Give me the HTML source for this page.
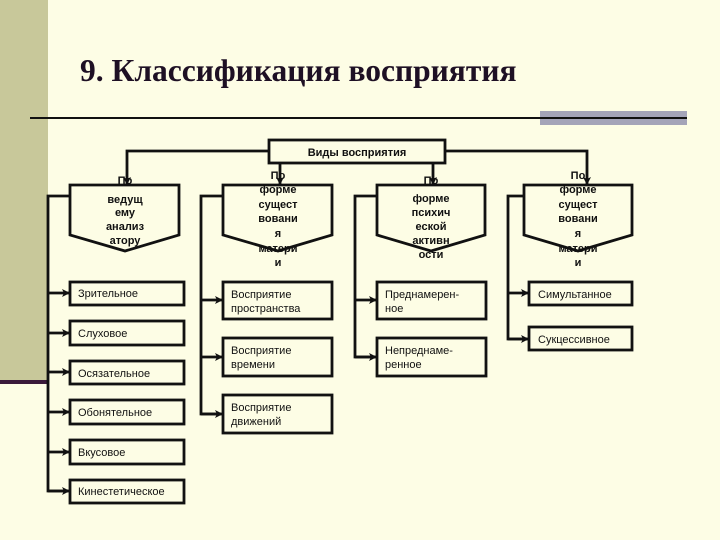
<!DOCTYPE html>
<html><head><meta charset="utf-8"><style>
body{margin:0;background:#fdfde5;}
svg{display:block}
text{font-family:"Liberation Sans",sans-serif;font-size:11px;fill:#111}
.b{font-weight:bold;text-anchor:middle}
</style></head><body>
<svg width="720" height="540" viewBox="0 0 720 540">
<defs><marker id="a" markerWidth="8" markerHeight="8" refX="7" refY="4" orient="auto" markerUnits="userSpaceOnUse"><path d="M0,0 L8,4 L0,8 L2,4z" fill="#111"/></marker></defs>
<rect x="0" y="0" width="720" height="540" fill="#fdfde5"/>
<rect x="0" y="0" width="48" height="382" fill="#c8c89a"/>
<rect x="0" y="380" width="48" height="4" fill="#3a1a3a"/>
<text x="80" y="81" style="font-family:'Liberation Serif',serif;font-size:31.5px;font-weight:bold;fill:#1e1024">9. Классификация восприятия</text>
<rect x="540" y="111" width="147" height="14" fill="#a4a4b8"/>
<line x1="30" y1="118" x2="687" y2="118" stroke="#111" stroke-width="2"/>
<g stroke="#111" stroke-width="2.8" fill="none">
<rect x="269" y="140" width="176" height="23" fill="#fdfde5"/>
<polyline points="269,151 127,151 127,184" marker-end="url(#a)"/>
<polyline points="445,151 587,151 587,184" marker-end="url(#a)"/>
<line x1="280" y1="163" x2="280" y2="184" marker-end="url(#a)"/>
<line x1="433" y1="163" x2="433" y2="184" marker-end="url(#a)"/>
<polygon points="70,185 179,185 179,235 125,251 70,235" fill="#fdfde5"/>
<polygon points="223,185 332,185 332,235 278,251 223,235" fill="#fdfde5"/>
<polygon points="377,185 485,185 485,235 431,251 377,235" fill="#fdfde5"/>
<polygon points="524,185 632,185 632,235 578,251 524,235" fill="#fdfde5"/>
<polyline points="70,196 48,196 48,491 68,491"/>
<polyline points="223,196 201,196 201,414 221,414"/>
<polyline points="377,196 355,196 355,357 375,357"/>
<polyline points="524,196 508,196 508,339 527,339"/>
<g marker-end="url(#a)">
<line x1="48" y1="293" x2="69" y2="293"/><line x1="48" y1="333" x2="69" y2="333"/><line x1="48" y1="372" x2="69" y2="372"/><line x1="48" y1="412" x2="69" y2="412"/><line x1="48" y1="452" x2="69" y2="452"/><line x1="48" y1="491" x2="69" y2="491"/>
<line x1="201" y1="300" x2="222" y2="300"/><line x1="201" y1="357" x2="222" y2="357"/><line x1="201" y1="414" x2="222" y2="414"/>
<line x1="355" y1="300" x2="376" y2="300"/><line x1="355" y1="357" x2="376" y2="357"/>
<line x1="508" y1="293" x2="528" y2="293"/><line x1="508" y1="339" x2="528" y2="339"/>
</g>
<rect x="70" y="282" width="114" height="23"/><rect x="70" y="321" width="114" height="24"/><rect x="70" y="361" width="114" height="23"/><rect x="70" y="400" width="114" height="24"/><rect x="70" y="440" width="114" height="24"/><rect x="70" y="480" width="114" height="23"/>
<rect x="223" y="282" width="109" height="37"/><rect x="223" y="338" width="109" height="38"/><rect x="223" y="395" width="109" height="38"/>
<rect x="377" y="282" width="109" height="37"/><rect x="377" y="338" width="109" height="38"/>
<rect x="529" y="282" width="103" height="23"/><rect x="529" y="327" width="103" height="23"/>
</g>
<text x="357" y="156" class="b">Виды восприятия</text>
<g class="b">
<text x="125" y="184" class="b">По</text><text x="125" y="203" class="b">ведущ</text><text x="125" y="216" class="b">ему</text><text x="125" y="230" class="b">анализ</text><text x="125" y="244" class="b">атору</text>
<text x="278" y="179" class="b">По</text><text x="278" y="193" class="b">форме</text><text x="278" y="208" class="b">сущест</text><text x="278" y="222" class="b">вовани</text><text x="278" y="237" class="b">я</text><text x="278" y="252" class="b">матери</text><text x="278" y="266" class="b">и</text>
<text x="431" y="184" class="b">По</text><text x="431" y="202" class="b">форме</text><text x="431" y="216" class="b">психич</text><text x="431" y="230" class="b">еской</text><text x="431" y="244" class="b">активн</text><text x="431" y="258" class="b">ости</text>
<text x="578" y="179" class="b">По</text><text x="578" y="193" class="b">форме</text><text x="578" y="208" class="b">сущест</text><text x="578" y="222" class="b">вовани</text><text x="578" y="237" class="b">я</text><text x="578" y="252" class="b">матери</text><text x="578" y="266" class="b">и</text>
</g>
<text x="78" y="297">Зрительное</text><text x="78" y="337">Слуховое</text><text x="78" y="377">Осязательное</text><text x="78" y="416">Обонятельное</text><text x="78" y="456">Вкусовое</text><text x="78" y="495">Кинестетическое</text>
<text x="231" y="298">Восприятие</text><text x="231" y="312">пространства</text>
<text x="231" y="354">Восприятие</text><text x="231" y="368">времени</text>
<text x="231" y="411">Восприятие</text><text x="231" y="425">движений</text>
<text x="385" y="298">Преднамерен-</text><text x="385" y="312">ное</text>
<text x="385" y="354">Непреднаме-</text><text x="385" y="368">ренное</text>
<text x="538" y="298">Симультанное</text><text x="538" y="343">Сукцессивное</text>
</svg>
</body></html>
